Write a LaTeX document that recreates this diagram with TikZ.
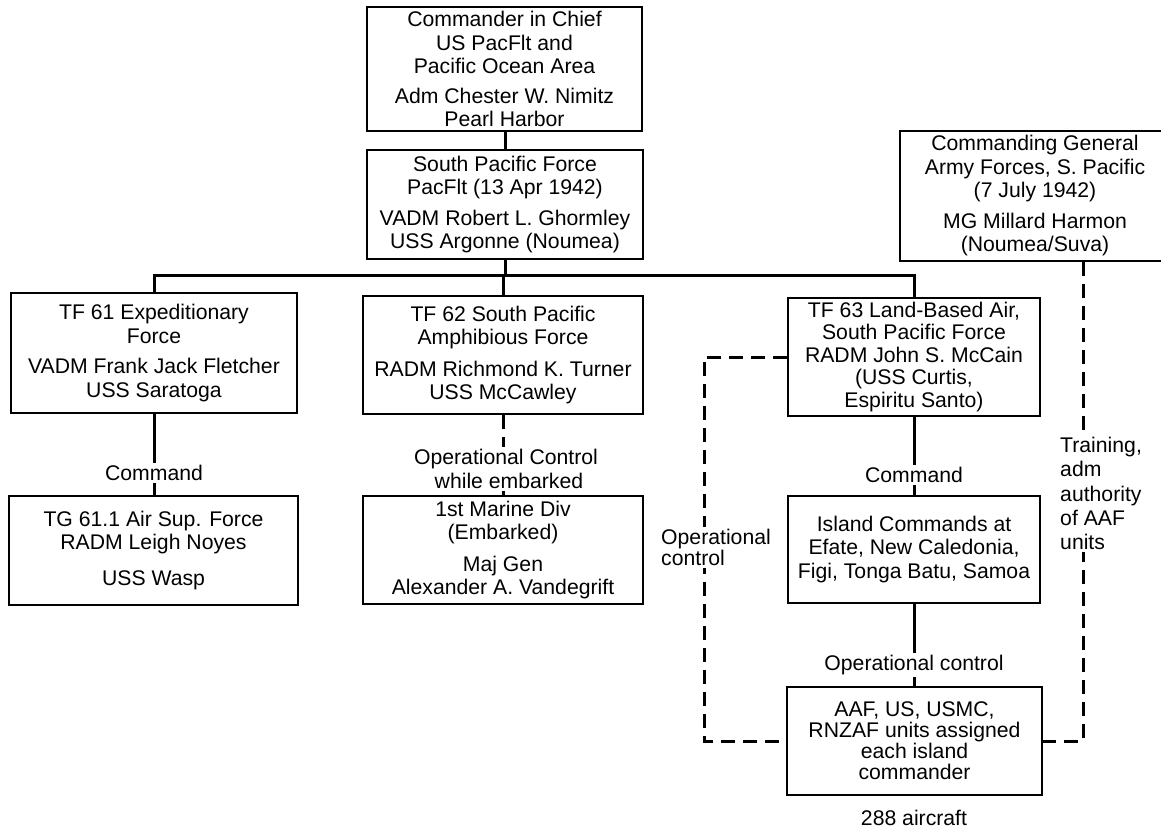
\documentclass[tikz,border=0pt]{standalone}
\usepackage{fontspec}
\setmainfont{Liberation Sans}
\begin{document}
\begin{tikzpicture}[x=1pt,y=-1pt,
  txt/.style={font=\fontsize{21.2}{23.5}\selectfont},
  box/.style 2 args={draw, line width=2.2pt, inner sep=0pt, align=center, txt,
    minimum width=#1pt, minimum height=#2pt},
  link/.style={line width=3pt},
  dlink/.style={line width=3pt, dash pattern=on 14pt off 8pt},
  lbl/.style={fill=white, inner sep=2pt, align=center, txt},
  sidelbl/.style={fill=white, inner sep=2pt, align=left, anchor=west, txt}
]
\clip (0,0) rectangle (1161,831);
\useasboundingbox (0,0) rectangle (1161,831);

% command boxes
\node[box={275}{124}] (cinc) at (504.5,69)
  {Commander in Chief\\US PacFlt and\\Pacific Ocean Area\\[6pt]Adm Chester W. Nimitz\\Pearl Harbor};
\node[box={276}{109}] (spf) at (505,204.5)
  {South Pacific Force\\PacFlt (13 Apr 1942)\\[7pt]VADM Robert L. Ghormley\\USS Argonne (Noumea)};
\node[box={270}{130}] (cg) at (1035,196)
  {Commanding General\\Army Forces, S. Pacific\\(7 July 1942)\\[7pt]MG Millard Harmon\\(Noumea/Suva)};
\node[box={286}{120}] (tf61) at (154,353)
  {TF 61 Expeditionary\\Force\\[7pt]VADM Frank Jack Fletcher\\USS Saratoga};
\node[box={280}{118}] (tf62) at (503,355)
  {TF 62 South Pacific\\Amphibious Force\\[8pt]RADM Richmond K. Turner\\USS McCawley};
\node[box={252}{118}, font=\fontsize{21.2}{22.5}\selectfont] (tf63) at (914,357)
  {TF 63 Land-Based Air,\\South Pacific Force\\RADM John S. McCain\\(USS Curtis,\\Espiritu Santo)};
\node[box={289}{109}] (tg) at (153.5,550.5)
  {TG 61.1 Air Sup. Force\\RADM Leigh Noyes\\[12pt]USS Wasp};
\node[box={280}{108}] (marine) at (503,550)
  {1st Marine Div\\(Embarked)\\[8pt]Maj Gen\\Alexander A. Vandegrift};
\node[box={252}{107}] (island) at (914,549.5)
  {Island Commands at\\Efate, New Caledonia,\\Figi, Tonga Batu, Samoa};
\node[box={255}{108}, font=\fontsize{21.2}{21}\selectfont] (units) at (914.5,741)
  {AAF, US, USMC,\\RNZAF units assigned\\each island\\commander};
\node[txt] (aircraft) at (914,818) {288 aircraft};

% chain of command
\coordinate (busy) at (0,275);
\coordinate (lx) at (704,0);
\coordinate (rx) at (1083,0);
\draw[link] (spf.north) -- (spf.north |- cinc.south);
\draw[link] (spf.south) -- (spf.south |- busy);
\draw[link] (tf61.north) -- (tf61.north |- busy) -- (tf63.north |- busy) -- (tf63.north);
\draw[link] (tf62.north) -- (tf62.north |- busy);
\draw[link] (tf61.south) -- (tg.north -| tf61.south);
\draw[dlink] (tf62.south) -- (marine.north -| tf62.south);
\draw[link] (tf63.south) -- (island.north -| tf63.south);
\draw[link] (island.south) -- (units.north -| island.south);

% operational and administrative lines
\draw[dlink] (tf63.west) -- (tf63.west -| lx) -- (lx |- units.west) -- (units.west);
\draw[dlink] (rx |- cg.south) -- (rx |- units.east) -- (units.east);

% connector labels
\node[lbl] (cmd1) at (154,473) {Command};
\node[lbl] (opemb) at (506,469) {Operational Control\\\ while embarked};
\node[lbl] (cmd2) at (914,475) {Command};
\node[lbl] (opctl) at (914,665) {Operational control};
\node[sidelbl, font=\fontsize{21.2}{21}\selectfont] (opleft) at (659,547.5) {Operational\\control};
\node[sidelbl, font=\fontsize{21.2}{24.2}\selectfont] (training) at (1058,493.5)
  {Training,\\adm\\authority\\of AAF\\units};
\end{tikzpicture}
\end{document}
